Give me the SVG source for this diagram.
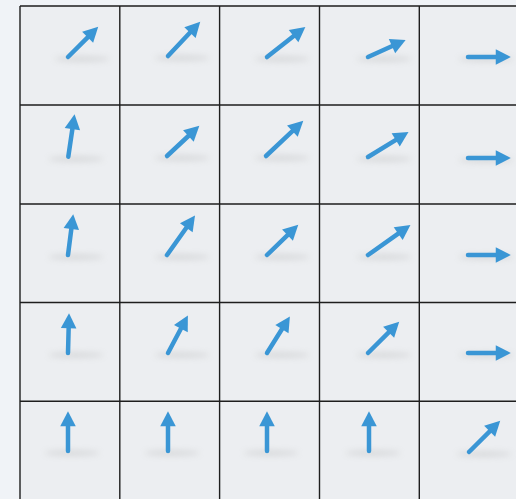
<svg xmlns="http://www.w3.org/2000/svg" width="516" height="499" viewBox="0 0 516 499">
<style>
.cell{fill:#eceef1;}
.grid{stroke:#1e1e1e;stroke-width:1.4;fill:none;}
.arr{stroke:#3a96d5;stroke-width:4.5;stroke-linecap:round;fill:none;marker-end:url(#head);}
.sh{fill:#a0a0a0;opacity:0.3;filter:url(#blur);}
</style>
<defs>
<marker id="head" markerUnits="userSpaceOnUse" markerWidth="20" markerHeight="20" viewBox="-4 -8 18 16" refX="0" refY="0" orient="auto">
<path d="M-2,-7 L11.5,0 L-2,7 Z" fill="#3a96d5"/>
</marker>
<filter id="blur" x="-50%" y="-400%" width="200%" height="900%"><feGaussianBlur stdDeviation="3"/></filter>
</defs>
<rect width="516" height="499" fill="#f0f3f7"/>
<rect x="20" y="6" width="496" height="493" class="cell"/>
<g id="shadows">
<ellipse class="sh" cx="82" cy="59" rx="28" ry="2.5"/><ellipse class="sh" cx="182" cy="58" rx="28" ry="2.5"/><ellipse class="sh" cx="282" cy="59" rx="28" ry="2.5"/><ellipse class="sh" cx="384" cy="59" rx="28" ry="2.5"/><ellipse class="sh" cx="486" cy="59" rx="28" ry="2.5"/>
<ellipse class="sh" cx="76" cy="159" rx="28" ry="2.5"/><ellipse class="sh" cx="182" cy="158" rx="28" ry="2.5"/><ellipse class="sh" cx="282" cy="158" rx="28" ry="2.5"/><ellipse class="sh" cx="384" cy="159" rx="28" ry="2.5"/><ellipse class="sh" cx="486" cy="160" rx="28" ry="2.5"/>
<ellipse class="sh" cx="76" cy="257" rx="28" ry="2.5"/><ellipse class="sh" cx="182" cy="257" rx="28" ry="2.5"/><ellipse class="sh" cx="282" cy="257" rx="28" ry="2.5"/><ellipse class="sh" cx="384" cy="257" rx="28" ry="2.5"/><ellipse class="sh" cx="486" cy="257" rx="28" ry="2.5"/>
<ellipse class="sh" cx="76" cy="355" rx="28" ry="2.5"/><ellipse class="sh" cx="182" cy="355" rx="28" ry="2.5"/><ellipse class="sh" cx="282" cy="355" rx="28" ry="2.5"/><ellipse class="sh" cx="384" cy="355" rx="28" ry="2.5"/><ellipse class="sh" cx="486" cy="355" rx="28" ry="2.5"/>
<ellipse class="sh" cx="72" cy="453" rx="28" ry="2.5"/><ellipse class="sh" cx="172" cy="453" rx="28" ry="2.5"/><ellipse class="sh" cx="271" cy="453" rx="28" ry="2.5"/><ellipse class="sh" cx="373" cy="453" rx="28" ry="2.5"/><ellipse class="sh" cx="484" cy="454" rx="28" ry="2.5"/>
</g>
<g id="grid">
<path class="grid" d="M20,6 H516 M20,105 H516 M20,204 H516 M20,302.5 H516 M20,401.3 H516 M20,6 V499 M119.8,6 V499 M219.6,6 V499 M319.5,6 V499 M419.3,6 V499"/>
</g>
<g id="connectors">
<line id="a00" class="arr" x1="68" y1="57" x2="89.2" y2="35.8"/>
<line id="a01" class="arr" x1="168" y1="56" x2="191.5" y2="31"/>
<line id="a02" class="arr" x1="267" y1="57" x2="295.3" y2="34.8"/>
<line id="a03" class="arr" x1="368" y1="57" x2="394" y2="45.3"/>
<line id="a04" class="arr" x1="468" y1="57" x2="498" y2="57"/>
<line id="a10" class="arr" x1="68.3" y1="156.7" x2="72.7" y2="126.9"/>
<line id="a11" class="arr" x1="167" y1="156" x2="190" y2="134.5"/>
<line id="a12" class="arr" x1="266" y1="156" x2="294" y2="129.6"/>
<line id="a13" class="arr" x1="368" y1="157" x2="397.6" y2="138.8"/>
<line id="a14" class="arr" x1="468" y1="158" x2="498" y2="158"/>
<line id="a20" class="arr" x1="68" y1="255" x2="71.6" y2="226.9"/>
<line id="a21" class="arr" x1="167" y1="255" x2="187.6" y2="226"/>
<line id="a22" class="arr" x1="267" y1="255" x2="289.1" y2="233.6"/>
<line id="a23" class="arr" x1="368" y1="255" x2="400" y2="232.4"/>
<line id="a24" class="arr" x1="468" y1="255" x2="498" y2="255"/>
<line id="a30" class="arr" x1="68" y1="353" x2="68.7" y2="326"/>
<line id="a31" class="arr" x1="168" y1="353" x2="181.9" y2="326.7"/>
<line id="a32" class="arr" x1="267" y1="353" x2="283.1" y2="327.3"/>
<line id="a33" class="arr" x1="368" y1="353" x2="390.2" y2="330.8"/>
<line id="a34" class="arr" x1="468" y1="353" x2="498" y2="353"/>
<line id="a40" class="arr" x1="68" y1="451" x2="68" y2="424"/>
<line id="a41" class="arr" x1="168" y1="451" x2="168" y2="424"/>
<line id="a42" class="arr" x1="267" y1="451" x2="267" y2="424"/>
<line id="a43" class="arr" x1="369" y1="451" x2="369" y2="424"/>
<line id="a44" class="arr" x1="469" y1="452" x2="491.2" y2="429.8"/>
</g>
</svg>
